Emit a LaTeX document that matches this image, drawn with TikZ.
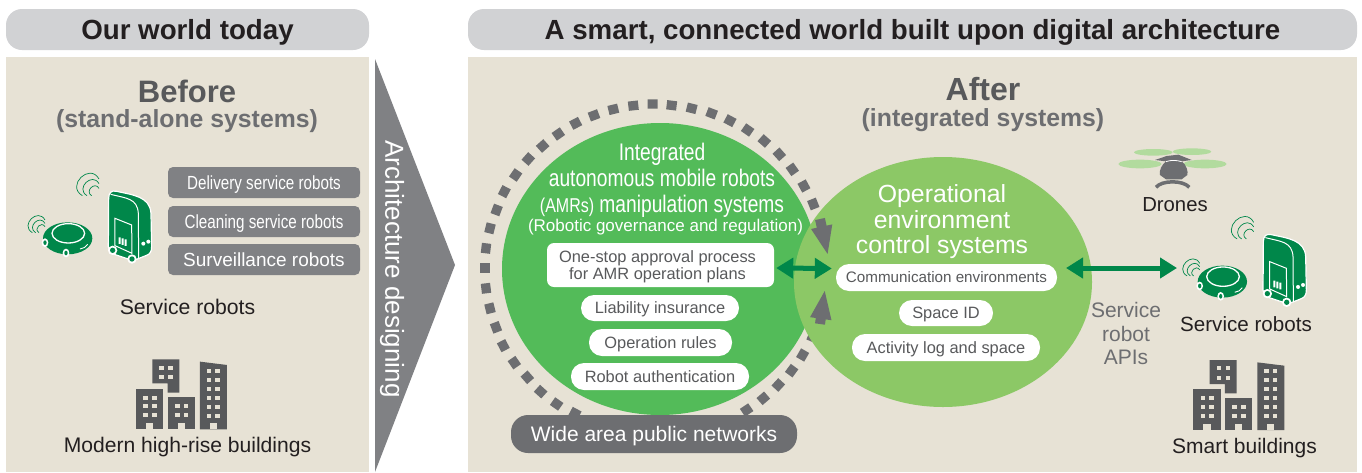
\documentclass[tikz,border=0pt]{standalone}
\usepackage{fontspec}
\setmainfont{Liberation Sans}
\newfontfamily\cond[FakeStretch=0.8]{Liberation Sans}
\usetikzlibrary{arrows.meta,shapes.geometric,calc}
\definecolor{bgc}{HTML}{E7E2D5}
\definecolor{headc}{HTML}{D1D2D4}
\definecolor{chev}{HTML}{808184}
\definecolor{darkg}{HTML}{53BB59}
\definecolor{lightg}{HTML}{8CC866}
\definecolor{robg}{HTML}{00874A}
\definecolor{slate}{HTML}{6D6E71}
\definecolor{bld}{HTML}{58595B}
\definecolor{ink}{HTML}{231F20}
\definecolor{rotor}{HTML}{B2DB9E}
\newdimen\lead
\newcommand{\fs}[2][1.2]{\lead=#2pt \lead=#1\lead \fontsize{#2}{\the\lead}\selectfont}
\tikzset{
 txt/.style={inner sep=0pt,align=center,text=ink},
 capcentre/.style={text height=#1,text depth=0pt},
 headbar/.style={fill=headc,rounded corners=16pt,inner sep=0pt,text=ink,capcentre=19.9pt,font=\bfseries\fontsize{27.7}{30}\selectfont},
 greybox/.style={fill=chev,rounded corners=5pt,inner sep=0pt,minimum width=192pt,minimum height=31pt,text=white,capcentre=13.7pt,font=\cond\fontsize{19}{21}\selectfont},
 whitepill/.style={fill=white,inner sep=0pt,text=bld,align=center,font=\fontsize{16.4}{18}\selectfont},
 greenarrow/.style={draw=robg,line width=5pt,{Triangle[length=17pt,width=20pt]}-{Triangle[length=17pt,width=20pt]}},
 greyarrow/.style={draw=slate,line width=10pt,-{Triangle[length=30pt,width=19pt]}},
}
% icons drawn in 3x-zoom coordinates
\newcommand{\robots}[2]{%
\begin{scope}[shift={(#1,#2)},x=0.3333pt,y=-0.3333pt]
 \fill[robg] (203,265) ellipse [x radius=74,y radius=48];
 \draw[white,line width=1.3pt] (205,250) ellipse [x radius=49,y radius=29];
 \draw[white,line width=0.9pt] (240,297) .. controls (250,296) and (258,291) .. (263,283);
 \foreach \wx/\wy in {135/278,198/309}{\fill[white] (\wx,\wy) ellipse [x radius=10,y radius=13];\fill[robg] (\wx,\wy) ellipse [x radius=5,y radius=7];}
 \foreach \r in {18,28,38}{\draw[robg,line width=0.7pt] (135,248)+(-\r,0) .. controls +(-\r,-0.6*\r) and +(-0.55*\r,-\r) .. +(0,-\r);}
 \foreach \r in {22,36,50}{\draw[robg,line width=0.7pt] (297,137)+(-\r,0) .. controls +(-\r,-0.6*\r) and +(-0.55*\r,-\r) .. +(0,-\r);}
 \draw[white,line width=1.2pt,fill=robg] (326,145) .. controls (326,128) and (335,120) .. (350,124) .. controls (400,135) and (450,140) .. (453,190) -- (455,290) .. controls (455,305) and (450,312) .. (440,316) -- (400,332) -- (340,312) .. controls (330,308) and (325,300) .. (325,290) -- cycle;
 \draw[white,line width=1pt] (332,133) .. controls (380,145) and (412,145) .. (415,190) -- (416,325);
 \draw[white,line width=1pt] (345,205) -- (395,225) -- (396,310) -- (345,287) -- cycle;
 \fill[white] (356,262) rectangle +(6,20) (365,265) rectangle +(6,20) (374,268) rectangle +(6,20);
 \fill[white] (430,281) circle (6) (445,275) circle (6);
 \foreach \wx/\wy in {338/301,396/327}{\fill[white] (\wx,\wy) circle (14);\fill[robg] (\wx,\wy) circle (8);}
\end{scope}}
\newcommand{\buildings}[2]{%
\begin{scope}[shift={(#1,#2)},x=0.3333pt,y=-0.3333pt]
 \fill[bld] (408,716) rectangle (490,838);
 \fill[bld] (457,628) -- (538,628) -- (538,728) -- (503,728) -- (503,700) -- (457,700) -- cycle;
 \fill[bld] (503,742) rectangle (585,838);
 \fill[bld] (600,635) -- (681,645) -- (681,838) -- (600,838) -- cycle;
 \foreach \wx in {437,463}{\foreach \wy in {743,769,795}{\fill[bgc] (\wx-7,\wy-6) rectangle +(14,12);}}
 \foreach \wx in {485,512}{\foreach \wy in {653,681}{\fill[bgc] (\wx-7,\wy-6) rectangle +(14,12);}}
 \foreach \wx in {532,558}{\foreach \wy in {769,795}{\fill[bgc] (\wx-7,\wy-6) rectangle +(14,12);}}
 \foreach \wx in {627,653}{\foreach \wy in {662,689,716,743,770,797}{\fill[bgc] (\wx-7,\wy-6) rectangle +(14,12);}}
 \foreach \dx in {449,544,640}{\fill[bgc] (\dx-11,820) rectangle (\dx+11,838);}
\end{scope}}
\begin{document}
\begin{tikzpicture}[x=1pt,y=-1pt]
\useasboundingbox (0,0) rectangle (1362,472);
\fill[white] (0,0) rectangle (1362,472);
% panels
\fill[bgc] (6,57) rectangle (369,472);
\fill[bgc] (468,57) rectangle (1357,472);
\node[headbar,minimum width=363pt,minimum height=41pt] (hl) at (187.5,29.5) {Our world today};
\node[headbar,minimum width=889pt,minimum height=41pt] (hr) at (912.5,29.5) {A smart, connected world built upon digital architecture};
% chevron
\fill[chev] (375,59) -- (455,265) -- (375,472) -- cycle;
\node[inner sep=0pt,rotate=-90,text=white,font=\fs{26}] (arch) at (392,269) {Architecture designing};
% left panel
\node[txt,text=bld,font=\bfseries\fs{31}] (before) at (187,91) {Before};
\node[txt,text=slate,font=\bfseries\fs{24.8}] (sa) at (187,121.5) {(stand-alone systems)};
\node[greybox] (gb1) at (264,182.5) {Delivery service robots};
\node[greybox] (gb2) at (264,221.5) {Cleaning service robots};
\node[greybox,font=\fontsize{19}{21}\selectfont] (gb3) at (264,259.5) {Surveillance robots};
\robots{0}{150}
\node[txt,font=\fs{21.2}] (sr1) at (187.5,306.5) {Service robots};
\buildings{0}{150}
\node[txt,font=\fs{21.1}] (mh) at (187.5,447.5) {Modern high-rise buildings};
% right panel: dashed ring
\begin{scope}[shift={(470,90)},x=0.3333pt,y=-0.3333pt]
 \foreach \a/\b in {548/42,605/46,665/55,725/70,780/92,833/120,883/153,928/193,967/238,1002/288,1030/342,1028/740,998/795,965/842,925/885,880/925,830/960,490/47,430/58,372/76,317/100,265/132,218/168,175/207,137/255,103/305,80/360,60/415,48/475,45/535,48/595,60/655,78/712,100/767,133/818,172/862,212/905,260/942,315/970}{
  \pgfmathsetmacro\ang{atan2(535-\b,\a-545)}
  \fill[slate,shift={(\a,\b)},rotate=\ang] (-14,-15) rectangle (14,15);
 }
\end{scope}
\node[ellipse,fill=darkg,inner sep=0pt,minimum width=316pt,minimum height=292pt] (amr) at (660,269) {};
\node[ellipse,fill=lightg,inner sep=0pt,minimum width=298pt,minimum height=250pt] (env) at (943,282) {};
\node[txt,text=bld,font=\bfseries\fs{32}] (after) at (983,89) {After};
\node[txt,text=slate,font=\bfseries\fs{24.8}] (is) at (983,120) {(integrated systems)};
\node[txt,text=white,font={\cond\fs[1.083]{24}}] (amrt) at (662,180) {Integrated\\autonomous mobile robots\\{\fs[1.3]{20}(AMRs)} manipulation systems};
\node[txt,text=white,font=\fs{17}] (rg) at (665.5,227.5) {(Robotic governance and regulation)};
\node[whitepill,rounded corners=7pt,minimum width=227pt,minimum height=44pt] (p1) at (660.5,265) {};
\node[txt,text=bld,font={\fs[1.02]{16.4}}] (p1t) at (657.5,267) {One-stop approval process\\for AMR operation plans};
\node[whitepill,capcentre=11.8pt,rounded corners=13pt,minimum width=158pt,minimum height=26pt] (p2) at (660,308) {Liability insurance};
\node[whitepill,capcentre=11.8pt,rounded corners=13pt,minimum width=143pt,minimum height=27pt] (p3) at (660.5,342.5) {Operation rules};
\node[whitepill,capcentre=11.8pt,rounded corners=13pt,minimum width=178pt,minimum height=27pt] (p4) at (660,376.5) {Robot authentication};
\node[fill=slate,rounded corners=17pt,inner sep=0pt,minimum width=286pt,minimum height=38pt,text=white,capcentre=15.1pt,font=\fs{21}] (wan) at (654,434) {Wide area public networks};
\node[txt,text=white,font={\fs[1.03]{24.8}}] (envt) at (942,222) {Operational\\environment\\control systems};
\node[whitepill,capcentre=10.9pt,rounded corners=13pt,minimum width=221pt,minimum height=27pt,font=\fs{15.2}] (c1) at (946.5,277.5) {Communication environments};
\node[whitepill,capcentre=11.8pt,rounded corners=13pt,minimum width=94pt,minimum height=26pt] (c2) at (946,313) {Space ID};
\node[whitepill,capcentre=11.8pt,rounded corners=13pt,minimum width=188pt,minimum height=27pt] (c3) at (946,347.5) {Activity log and space};
% connectors
\coordinate (ga1) at (820,219);
\coordinate (ga2) at (828,256);
\coordinate (gb1s) at (820,324);
\coordinate (gb2e) at (825,289);
\draw[greyarrow] (ga1) -- (ga2);
\draw[greyarrow] (gb1s) -- (gb2e);
\coordinate (api1) at (1066,268);
\coordinate (api2) at (1177,268);
\draw[greenarrow] ($(p1.east)+(2,3)$) -- ($(c1.west)+(-4,-9)$);
\draw[greenarrow] (api1) -- (api2);
\node[txt,text=slate,font={\fs[1.1]{21}}] (apis) at (1126,333.5) {Service\\robot\\APIs};
% drone
\begin{scope}[shift={(1060,130)},x=0.3333pt,y=-0.3333pt]
 \fill[rotor] (280,67) ellipse [x radius=58,y radius=10];
 \fill[rotor] (396,65) ellipse [x radius=58,y radius=10];
 \fill[rotor] (240,102) ellipse [x radius=65,y radius=13];
 \fill[rotor] (435,102) ellipse [x radius=65,y radius=13];
 \fill[slate] (285,90) -- (320,78) -- (355,74) -- (395,90) -- (365,94) .. controls (380,105) and (385,125) .. (382,135) -- (365,148) -- (318,148) -- (300,135) .. controls (297,120) and (305,105) .. (318,94) -- cycle;
 \draw[white,line width=0.8pt] (318,95) .. controls (330,90) and (350,90) .. (365,95);
 \draw[slate,line width=3.5pt] (288,172) .. controls (305,150) and (370,150) .. (388,172);
\end{scope}
\node[txt,font=\fs{20.3}] (dr) at (1175,205) {Drones};
\robots{1154.7}{193.3}
\node[txt,font=\fs{20.6}] (sr2) at (1246,324.5) {Service robots};
\buildings{1057.3}{150.7}
\node[txt,font=\fs{21}] (sb) at (1244.5,448.5) {Smart buildings};
\end{tikzpicture}
\end{document}
